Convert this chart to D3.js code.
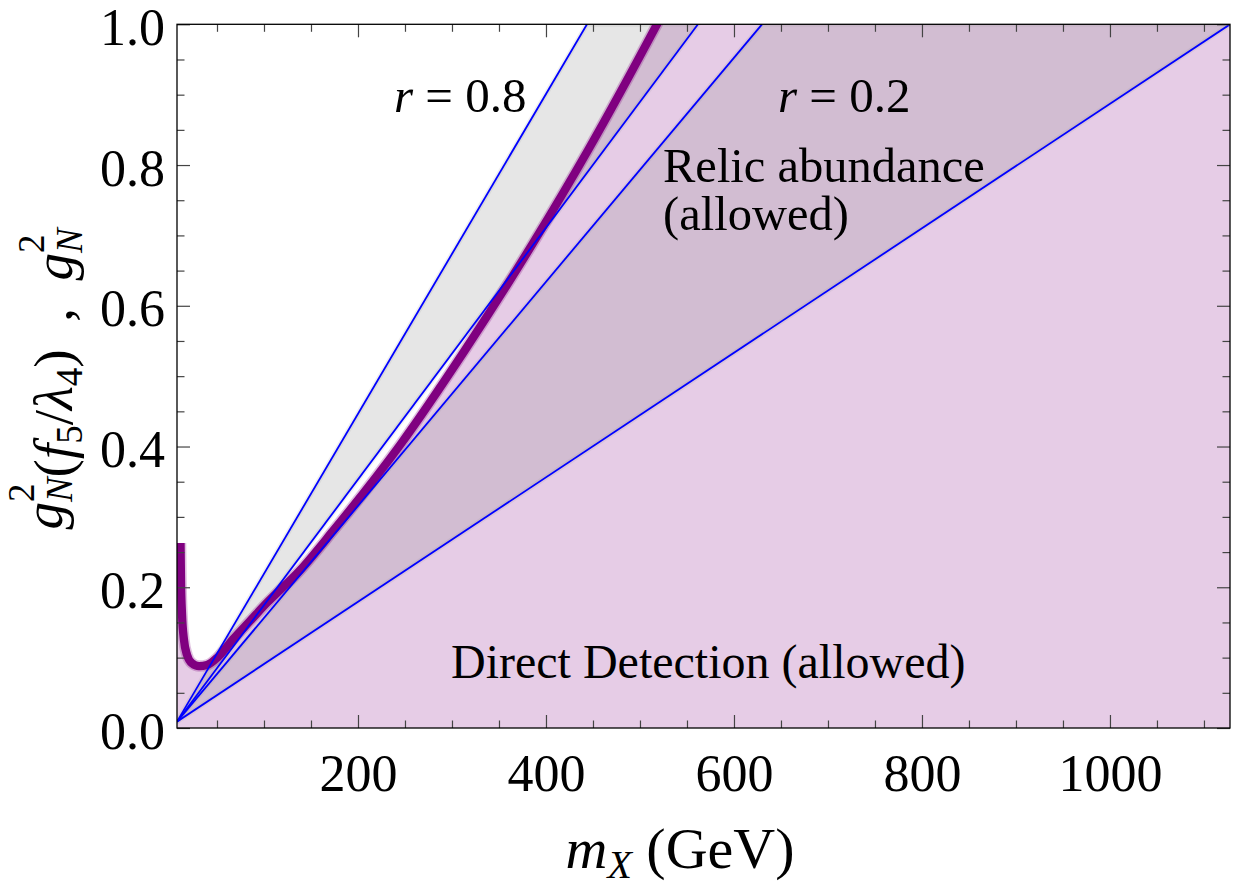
<!DOCTYPE html>
<html>
<head>
<meta charset="utf-8">
<script src="https://cdn.jsdelivr.net/npm/d3@7"></script>
<style>
  html, body { margin: 0; padding: 0; background: #ffffff; }
  svg { display: block; }
  text { font-family: "Liberation Serif", "Times New Roman", Times, serif; fill: #000; }
</style>
</head>
<body>
<svg id="chart" width="1238" height="889"></svg>
<script>
// ---------------- data ----------------
const xDomain = [7.45, 1127.7];          // m_X (GeV)
const yDomain = [0, 1];
const xMajorTicks = [200, 400, 600, 800, 1000];
const xTickLabels = ["200", "400", "600", "800", "1000"];
const xMinorTicks = [50, 100, 150, 250, 300, 350, 450, 500, 550, 650, 700, 750, 850, 900, 950, 1050, 1100];
const yMajorTicks = [0, 0.2, 0.4, 0.6, 0.8, 1.0];
const yTickLabels = ["0.0", "0.2", "0.4", "0.6", "0.8", "1.0"];
const yMinorTicks = [0.05, 0.1, 0.15, 0.25, 0.3, 0.35, 0.45, 0.5, 0.55, 0.65, 0.7, 0.75, 0.85, 0.9, 0.95];

// straight lines: common start point, end points
const lineStartX = 7.45;
const lineStartY = 0.009;
const lineNames = ["A", "B", "C", "D"];
const lineEndX = [443.6, 561.7, 629.8, 1127.7];
const lineEndY = [1, 1, 1, 1];

// direct-detection bound (thick purple curve)
const curveX = [11.2, 11.7, 12.8, 14.9, 18.1, 23.4, 30.9, 39.4, 51.1, 67.0, 85.1, 103.2, 138.3, 173.4, 244.7, 313.8, 386.2, 444.7, 518.1, 530];
const curveY = [0.263, 0.210, 0.161, 0.125, 0.104, 0.092, 0.088, 0.0895, 0.101, 0.126, 0.152, 0.178, 0.224, 0.280, 0.402, 0.537, 0.689, 0.821, 1.0, 1.03];

// ---------------- layout ----------------
const svg = d3.select("#chart");
const L = 177, R = 1230, T = 24.3, B = 728;
const x = d3.scaleLinear().domain(xDomain).range([L, R]);
const y = d3.scaleLinear().domain(yDomain).range([B, T]);

svg.append("defs").append("clipPath").attr("id", "plotclip")
  .append("rect").attr("x", L).attr("y", T).attr("width", R - L).attr("height", B - T);

const plot = svg.append("g").attr("clip-path", "url(#plotclip)");

const curvePts = curveX.map((v, i) => [v, curveY[i]]);
const lineGen = d3.line().x(d => x(d[0])).y(d => y(d[1])).curve(d3.curveMonotoneX);
const polyGen = d3.line().x(d => x(d[0])).y(d => y(d[1]));

// pink region: below the purple curve
const pinkPath = "M" + x(xDomain[0]) + "," + y(0) +
  "L" + x(xDomain[0]) + "," + y(curveY[0]) +
  "L" + lineGen(curvePts).slice(1) +
  "L" + x(xDomain[1]) + "," + y(1.03) +
  "L" + x(xDomain[1]) + "," + y(0) + "Z";
plot.append("path").attr("d", pinkPath)
  .attr("fill", "#800080").attr("fill-opacity", 0.2).attr("stroke", "none");

// relic abundance bands (grey): between A-B (r=0.8) and C-D (r=0.2)
const bands = [[0, 1], [2, 3]];
bands.forEach(([i, j]) => {
  const pts = [[lineStartX, lineStartY], [lineEndX[i], lineEndY[i]], [lineEndX[j], lineEndY[j]]];
  plot.append("path").attr("d", polyGen(pts) + "Z")
    .attr("fill", "#808080").attr("fill-opacity", 0.2)
    .attr("stroke", "#808080").attr("stroke-opacity", 0.12).attr("stroke-width", 5)
    .attr("stroke-linejoin", "round");
});

// purple curve
plot.append("path").attr("d", lineGen(curvePts))
  .attr("fill", "none").attr("stroke", "#800080").attr("stroke-opacity", 0.25)
  .attr("stroke-width", 11.5);
plot.append("path").attr("d", lineGen(curvePts))
  .attr("fill", "none").attr("stroke", "#800080")
  .attr("stroke-width", 8.3);

// blue lines
lineNames.forEach((n, i) => {
  plot.append("line")
    .attr("x1", x(lineStartX)).attr("y1", y(lineStartY))
    .attr("x2", x(lineEndX[i])).attr("y2", y(lineEndY[i]))
    .attr("stroke", "#0000ff").attr("stroke-width", 1.8);
});

// ---------------- axes ----------------
function styleAxis(g) {
  g.select(".domain").remove();
  g.selectAll(".tick line").attr("stroke", "#444").attr("stroke-width", 1.2);
}
const majLen = 13, minLen = 7.5;
// bottom
const gxb = svg.append("g").attr("transform", `translate(0,${B})`)
  .call(d3.axisBottom(x).tickValues(xMajorTicks).tickSize(-majLen).tickFormat((d, i) => xTickLabels[i]));
styleAxis(gxb);
gxb.selectAll("text").attr("dy", null).attr("y", 63).attr("font-size", 52)
  .style("font-family", "'Liberation Serif', 'Times New Roman', serif").attr("fill", "#000");
svg.append("g").attr("transform", `translate(0,${B})`)
  .call(d3.axisBottom(x).tickValues(xMinorTicks).tickSize(-minLen).tickFormat("")).call(styleAxis);
// top
svg.append("g").attr("transform", `translate(0,${T})`)
  .call(d3.axisTop(x).tickValues(xMajorTicks).tickSize(-majLen).tickFormat("")).call(styleAxis);
svg.append("g").attr("transform", `translate(0,${T})`)
  .call(d3.axisTop(x).tickValues(xMinorTicks).tickSize(-minLen).tickFormat("")).call(styleAxis);
// left
const gyl = svg.append("g").attr("transform", `translate(${L},0)`)
  .call(d3.axisLeft(y).tickValues(yMajorTicks).tickSize(-majLen).tickFormat((d, i) => yTickLabels[i]));
styleAxis(gyl);
gyl.selectAll("text").attr("dy", null).attr("x", -12).attr("y", 20).attr("font-size", 52)
  .style("font-family", "'Liberation Serif', 'Times New Roman', serif").attr("fill", "#000");
svg.append("g").attr("transform", `translate(${L},0)`)
  .call(d3.axisLeft(y).tickValues(yMinorTicks).tickSize(-minLen).tickFormat("")).call(styleAxis);
// right
svg.append("g").attr("transform", `translate(${R},0)`)
  .call(d3.axisRight(y).tickValues(yMajorTicks).tickSize(-majLen).tickFormat("")).call(styleAxis);
svg.append("g").attr("transform", `translate(${R},0)`)
  .call(d3.axisRight(y).tickValues(yMinorTicks).tickSize(-minLen).tickFormat("")).call(styleAxis);

// frame
svg.append("rect").attr("x", L).attr("y", T).attr("width", R - L).attr("height", B - T)
  .attr("fill", "none").attr("stroke", "#000").attr("stroke-width", 1.3);

// ---------------- annotations ----------------
function rLabel(xp, yp, val) {
  const t = svg.append("text").attr("x", xp).attr("y", yp).attr("font-size", 49);
  t.append("tspan").attr("font-style", "italic").text("r");
  t.append("tspan").text(" = " + val);
}
rLabel(394, 112, "0.8");
rLabel(778, 112, "0.2");
svg.append("text").attr("x", 663).attr("y", 182).attr("font-size", 48.5).text("Relic abundance");
svg.append("text").attr("x", 663).attr("y", 230).attr("font-size", 48.5).text("(allowed)");
svg.append("text").attr("x", 451).attr("y", 678).attr("font-size", 48).text("Direct Detection (allowed)");

// x-axis title
const xt = svg.append("text").attr("x", 680).attr("y", 868).attr("font-size", 58).attr("text-anchor", "middle");
xt.append("tspan").attr("font-style", "italic").text("m");
xt.append("tspan").attr("font-style", "italic").attr("font-size", 40).attr("dy", 10).text("X");
xt.append("tspan").attr("dy", -10).text("\u00a0(GeV)");

// y-axis title
const yt = svg.append("text").attr("transform", "translate(62,379) rotate(-90)")
  .attr("font-size", 55).attr("text-anchor", "middle");
function gN(t) {
  t.append("tspan").attr("font-style", "italic").text("g");
  t.append("tspan").attr("font-size", 37).attr("dy", -28).text("2");
  t.append("tspan").attr("font-size", 37).attr("font-style", "italic").attr("dx", -18.5).attr("dy", 38).text("N");
  t.append("tspan").attr("dy", -10).text("");
}
gN(yt);
yt.append("tspan").text("(");
yt.append("tspan").attr("font-style", "italic").text("f");
yt.append("tspan").attr("font-size", 37).attr("dy", 10).text("5");
yt.append("tspan").attr("dy", -10).text("/");
yt.append("tspan").attr("font-style", "italic").text("\u03bb");
yt.append("tspan").attr("font-size", 37).attr("dy", 10).text("4");
yt.append("tspan").attr("dy", -10).text(")\u00a0\u00a0,\u00a0\u00a0");
gN(yt);
</script>
</body>
</html>
